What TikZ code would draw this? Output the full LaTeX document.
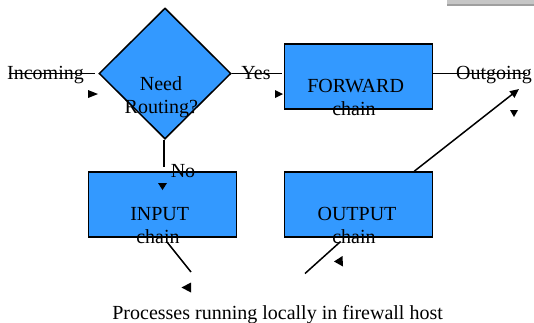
\documentclass[tikz,border=0pt]{standalone}
\usepackage{fontspec}
\setmainfont{Liberation Serif}
\usetikzlibrary{shapes.geometric,arrows.meta}
\definecolor{chainblue}{HTML}{3399FF}
\begin{document}
\begin{tikzpicture}[x=1bp,y=-1bp,
  line/.style={line width=1.5bp},
  stepbox/.style={draw,line width=1.6bp,fill=chainblue,minimum width=148bp,minimum height=65bp,inner sep=0},
  decision/.style={diamond,draw,line width=1.5bp,fill=chainblue,minimum width=132bp,minimum height=131bp,inner sep=0,aspect=1},
  lbl/.style={font=\fontsize{20bp}{23bp}\selectfont,inner sep=0,anchor=base},
  head/.style={fill=black}]
\useasboundingbox (0,0) rectangle (534,322);

% window bar in the corner
\fill[gray!45] (447,0) rectangle (534,5.5);
\fill[gray!75] (447,4) rectangle (534,5.5);

% shapes
\node[decision] (route) at (165,73.5) {};
\node[stepbox] (fwd) at (358.3,76.3) {};
\node[stepbox] (inp) at (162.6,204.4) {};
\node[stepbox] (outp) at (358.3,204.5) {};

% free ends of the connectors
\coordinate (inStart) at (8.5,73.5);
\coordinate (outEnd) at (527,73.5);
\coordinate (outTip) at (519,89);
\coordinate (noEnd) at (164,167);
\coordinate (inpLow) at (167,242);
\coordinate (procA) at (191,272);
\coordinate (procB) at (305,273.5);
\coordinate (outpLow) at (340.6,241.5);

% connectors
\draw[line] (inStart) -- ([xshift=-3.5bp]route.west);
\draw[line] (route.east) -- ([xshift=-2bp]fwd.west |- route.east);
\draw[line] (fwd.east |- route.east) -- (outEnd);
\draw[line,-{Triangle[length=9bp,width=8bp]}] ([xshift=56bp]outp.north) -- (outTip);
\draw[line] ([xshift=-1bp]route.south) -- ([xshift=-1bp]route.south |- noEnd);
\draw[line] (inpLow) -- (procA);
\draw[line] (procB) -- (outpLow);

% arrowheads
\fill[head] (88,90) -- (88,98) -- (98,94) -- cycle;
\fill[head] (275,90) -- (275,98) -- (283,94) -- cycle;
\fill[head] (510,110) -- (518,110) -- (514,117) -- cycle;
\fill[head] (158,183) -- (167,183) -- (162.5,190) -- cycle;
\fill[head] (181.5,287.5) -- (191,282.5) -- (191,292.5) -- cycle;
\fill[head] (342.5,256) -- (334,261.5) -- (343,266.5) -- cycle;

% labels
\node[lbl] (tIn) at (45.5,79) {Incoming};
\node[lbl] (tYes) at (256,79) {Yes};
\node[lbl] (tOut) at (494,79) {Outgoing};
\node[lbl] (tNeed) at (161,90) {Need};
\node[lbl] (tRouting) at (161.4,113.5) {Routing?};
\node[lbl] (tFwd) at (355.6,92.6) {FORWARD};
\node[lbl] (tFwdc) at (354,115.8) {chain};
\node[lbl] (tInp) at (159.7,220) {INPUT};
\node[lbl] (tInpc) at (158,243.2) {chain};
\node[lbl] (tOutp) at (357,220) {OUTPUT};
\node[lbl] (tOutpc) at (354,243.2) {chain};
\node[lbl] (tNo) at (183,177) {No};
\node[lbl] (tProc) at (277.6,319) {Processes running locally in firewall host};
\end{tikzpicture}
\end{document}
